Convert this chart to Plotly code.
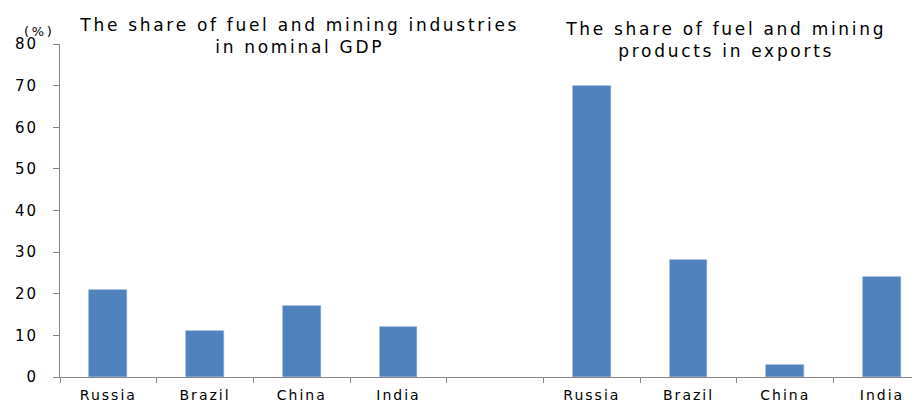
import plotly.graph_objects as go

# Data
categories = ["Russia", "Brazil", "China", "India", "", "Russia", "Brazil", "China", "India"]
values = [21, 11, 17, 12, None, 70, 28, 3, 24]
y_ticks = [0, 10, 20, 30, 40, 50, 60, 70, 80]
title_gdp = "The share of fuel and mining industries<br>in nominal GDP"
title_exports = "The share of fuel and mining<br>products in exports"
unit_label = "(%)"

positions = list(range(len(categories)))
label_pos = [p for p, c in zip(positions, categories) if c]
label_txt = [c for c in categories if c]

# page body has an 8px default margin, compensate for it
OFF = 8
W, H = 920, 401
left, top, bottom = 60, 44, 24
plot_h = H - top - bottom
slot_px = 96.7
plot_w = W - left
x_max = -0.5 + plot_w / slot_px

fig = go.Figure()
fig.add_trace(go.Bar(
    x=positions, y=values, width=0.39,
    marker=dict(color="#4F81BD", line=dict(color="#7FA3D0", width=0.6)),
    showlegend=False, hoverinfo="skip",
))

font_family = "DejaVu Sans"


def py_to_paper(py):
    return 1 - (py - top) / plot_h


def px_to_paper(px):
    return (px - left) / plot_w


for text, cx, cy in [(title_gdp, 299, 36), (title_exports, 725, 40)]:
    fig.add_annotation(text=text, x=px_to_paper(cx), y=py_to_paper(cy),
                       xref="paper", yref="paper", showarrow=False,
                       xanchor="center", yanchor="middle", align="center",
                       font=dict(family=font_family, size=17, color="#000000"))

fig.add_annotation(text=unit_label, x=px_to_paper(39), y=py_to_paper(32),
                   xref="paper", yref="paper", showarrow=False,
                   xanchor="center", yanchor="middle",
                   font=dict(family=font_family, size=13, color="#000000"))

fig.update_layout(
    width=W - OFF, height=H - OFF,
    margin=dict(l=left - OFF, r=0, t=top - OFF, b=bottom, pad=0, autoexpand=False),
    paper_bgcolor="white", plot_bgcolor="white",
    font=dict(family=font_family, color="#000000"),
    bargap=0,
)
fig.update_xaxes(
    range=[-0.5, x_max], tickmode="array", tickvals=label_pos, ticktext=label_txt,
    ticks="", showgrid=False, zeroline=False, automargin=False,
    showline=True, linecolor="#868686", linewidth=1,
    tickfont=dict(family=font_family, size=14, color="#000000"),
    ticklabelstandoff=5,
    minor=dict(tick0=-0.5, dtick=1, ticks="outside", ticklen=5,
               tickcolor="#868686", tickwidth=1, showgrid=False),
)
fig.update_yaxes(
    range=[0, 80], tickmode="array", tickvals=y_ticks,
    ticks="outside", ticklen=6, tickcolor="#868686", tickwidth=1,
    showgrid=False, zeroline=False, automargin=False,
    showline=True, linecolor="#868686", linewidth=1,
    tickfont=dict(family=font_family, size=15, color="#000000"),
    ticklabelstandoff=12,
)

post = """
var gd = document.getElementById('{plot_id}');
function sp(sel, v){ gd.querySelectorAll(sel).forEach(function(e){ e.style.letterSpacing = v; }); }
sp('g.annotation text.annotation-text', '2.7px');
sp('g.xtick text', '2px');
sp('g.ytick text', '2px');
"""

fig.write_html("out.html", post_script=post)
